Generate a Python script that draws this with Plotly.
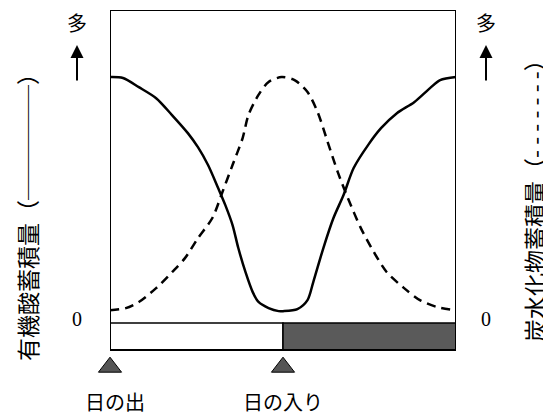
"""Organic acid vs carbohydrate accumulation over a day (CAM plant style chart)."""
import plotly.graph_objects as go

FONT = "Noto Sans CJK JP"

# hours from sunrise (sunrise = 0, sunset = 12, next sunrise = 24)
ACID_HOURS = [0, 0.9, 2.0, 3.2, 4.3, 5.4, 6.1, 6.8, 7.5, 8.0, 8.5, 8.9, 9.4, 9.9,
              10.3, 11.0, 11.7, 12.0, 13.0, 13.7, 14.1, 14.8, 15.5, 16.2, 16.9,
              17.9, 18.8, 19.9, 21.1, 22.2, 22.9, 24]
ACID_VALUES = [100, 99.6, 95.7, 91.0, 83.8, 76.1, 70.1, 62.5, 52.7, 45.4, 36.9, 27.1,
               16.8, 8.3, 4.1, 1.5, 0.2, 0.2, 1.1, 4.9, 12.6, 27.1, 39.9, 49.7, 61.2,
               71.0, 78.2, 84.6, 89.3, 95.3, 98.7, 100]

SUGAR_HOURS = [0, 1.1, 2.0, 3.2, 4.3, 5.2, 6.1, 7.1, 7.8, 8.5, 9.2, 9.6, 10.3, 11.0,
               11.9, 12.8, 13.7, 14.4, 15.1, 15.8, 16.5, 17.4, 18.3, 19.2, 20.4,
               21.5, 22.7, 24]
SUGAR_VALUES = [0.6, 1.5, 4.1, 10.0, 16.8, 22.8, 31.3, 39.9, 51.0, 62.5, 74.0, 83.8,
                92.4, 97.9, 100, 98.7, 93.6, 85.1, 72.3, 59.5, 48.4, 35.6, 25.4, 16.8,
                10.0, 4.9, 1.9, 0.6]

# light / dark periods
PERIOD_START = [0, 12]
PERIOD_END = [12, 24]
PERIOD_COLOR = ["white", "#5a5a5a"]

EVENT_HOURS = [0, 12]
EVENT_LABELS = ["日の出", "日の入り"]
EVENT_SHIFT = [5, 0]

# vertical scale: the frame and the day/night strip sit inside the axis range
Y_TOP = 128.6
BAR_TOP = -4.9
BAR_BOTTOM = -16.4
Y_BOTTOM = -47.5
MARK_Y = -23.7
LABEL_Y = -38.2

# the page body has an 8px margin, so the figure is laid out 8px up/left
PAGE = 8


def px_x(px):
    return (px - 110) / 346


def px_y(py):
    return 1 - (py - 10) / 413


fig = go.Figure()

for x0, x1, c in zip(PERIOD_START, PERIOD_END, PERIOD_COLOR):
    fig.add_shape(type="rect", x0=x0, x1=x1, y0=BAR_BOTTOM, y1=BAR_TOP,
                  fillcolor=c, line=dict(color="black", width=1.5))
fig.add_shape(type="rect", x0=0, x1=24, y0=BAR_BOTTOM, y1=Y_TOP,
              line=dict(color="black", width=2))

fig.add_trace(go.Scatter(x=ACID_HOURS, y=ACID_VALUES, mode="lines",
                         line=dict(color="black", width=2.5, shape="spline", smoothing=0.8)))
fig.add_trace(go.Scatter(x=SUGAR_HOURS, y=SUGAR_VALUES, mode="lines",
                         line=dict(color="black", width=2.5, dash="9px,6px",
                                   shape="spline", smoothing=0.8)))

# sunrise / sunset markers under the strip
fig.add_trace(go.Scatter(x=EVENT_HOURS, y=[MARK_Y] * len(EVENT_HOURS), mode="markers",
                         marker=dict(symbol="triangle-up", size=20, color="#555555",
                                     line=dict(color="black", width=1)),
                         cliponaxis=False))

annotations = []
for h, lab, sh in zip(EVENT_HOURS, EVENT_LABELS, EVENT_SHIFT):
    annotations.append(dict(x=h, y=LABEL_Y, xref="x", yref="y", text=lab, showarrow=False,
                            xanchor="center", yanchor="middle", xshift=sh,
                            font=dict(size=20, family=FONT, color="black")))

for px in (77, 486):
    annotations.append(dict(x=px_x(px), y=-3, xref="paper", yref="y", text="0",
                            showarrow=False, xanchor="center", yanchor="middle",
                            font=dict(size=20, family="Liberation Serif", color="black")))
    annotations.append(dict(x=px_x(px), y=px_y(23), xref="paper", yref="paper", text="多",
                            showarrow=False, xanchor="center", yanchor="middle",
                            font=dict(size=20, family=FONT, color="black")))
    annotations.append(dict(x=px_x(px), y=px_y(45), xref="paper", yref="paper", text="",
                            showarrow=True, ax=0, ay=37, arrowhead=2, arrowsize=1.3,
                            arrowwidth=2, arrowcolor="black"))

annotations.append(dict(x=px_x(27), y=px_y(212), xref="paper", yref="paper",
                        text="有機酸蓄積量（─────）", textangle=-90, showarrow=False,
                        xanchor="center", yanchor="middle",
                        font=dict(size=23, family=FONT, color="black")))
annotations.append(dict(x=px_x(534), y=px_y(195), xref="paper", yref="paper",
                        text="炭水化物蓄積量（- - - - - - -）", textangle=-90, showarrow=False,
                        xanchor="center", yanchor="middle",
                        font=dict(size=23, family=FONT, color="black")))

fig.update_layout(
    width=551,
    height=415,
    margin=dict(l=110 - PAGE, r=551 - 456 + PAGE, t=10 - PAGE, b=0),
    plot_bgcolor="white",
    paper_bgcolor="white",
    showlegend=False,
    annotations=annotations,
)
fig.update_xaxes(range=[0, 24], visible=False)
fig.update_yaxes(range=[Y_BOTTOM, Y_TOP], visible=False)

fig.write_html("out.html")
